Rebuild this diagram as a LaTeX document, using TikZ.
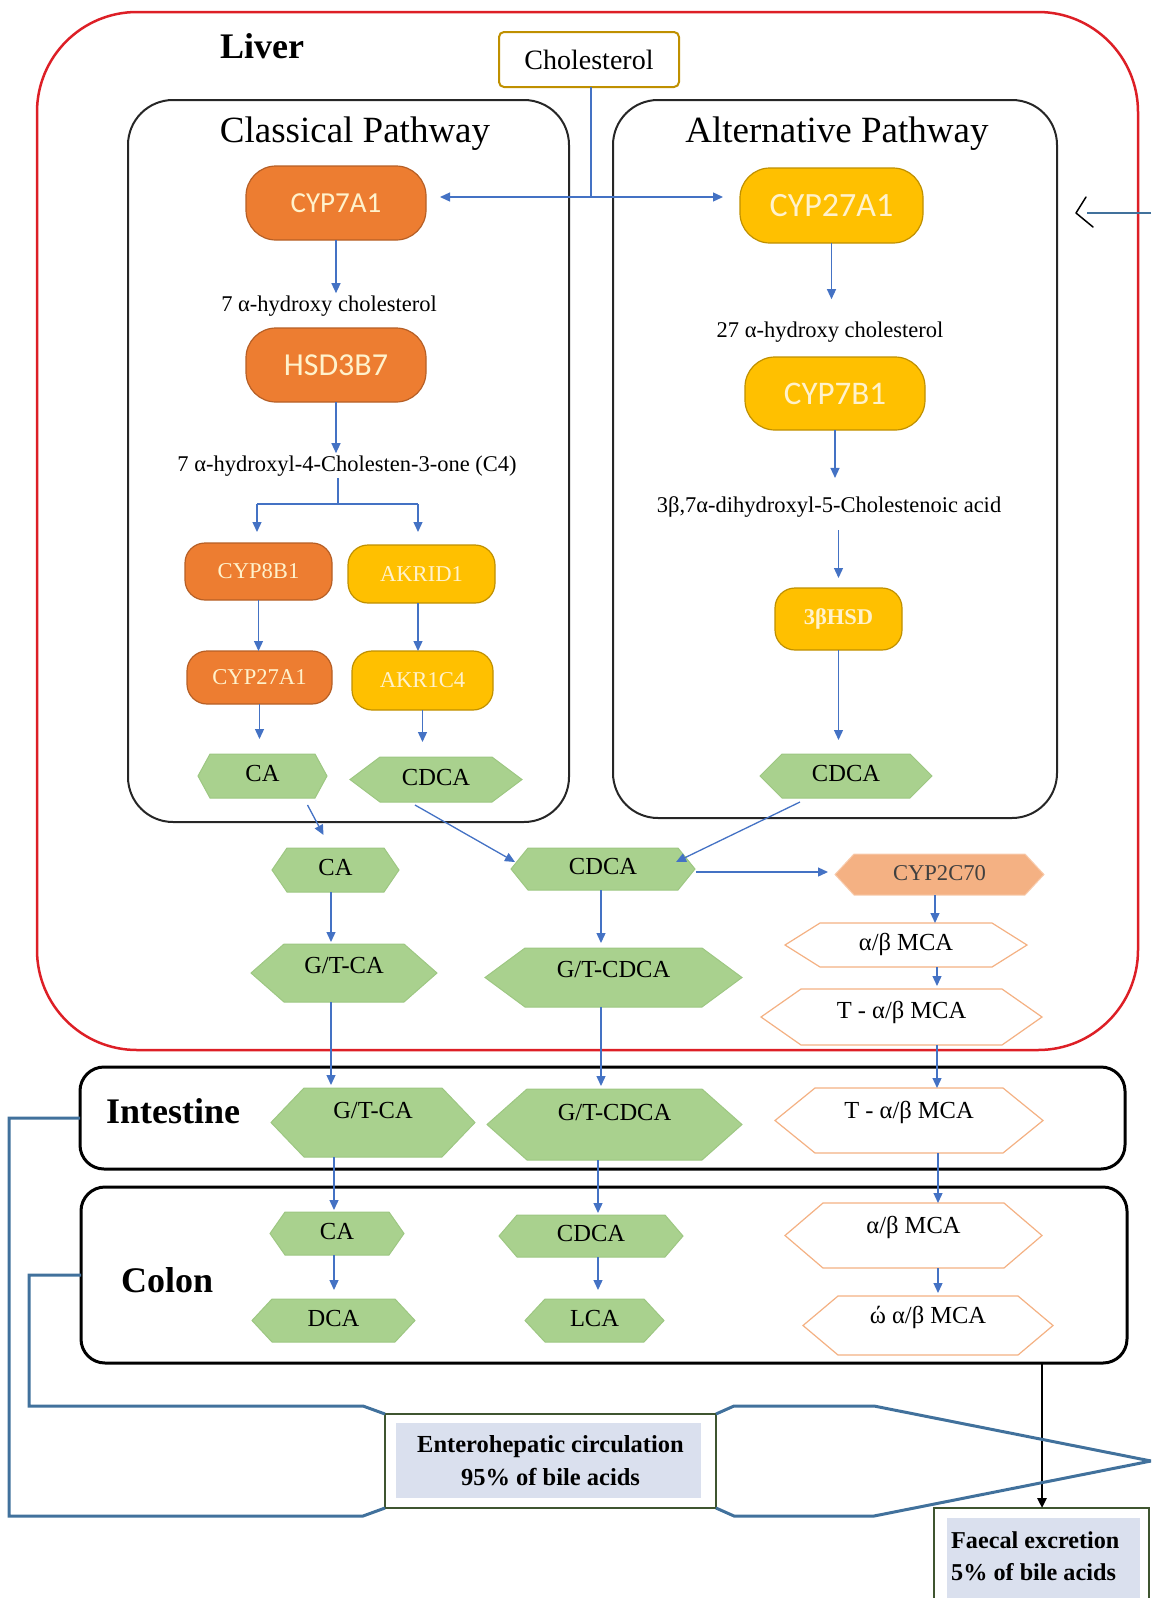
\documentclass[tikz,border=0pt]{standalone}
\usepackage{fontspec}
\setmainfont{Liberation Serif}
\newfontfamily\calib{Carlito}
\usetikzlibrary{arrows.meta,backgrounds,calc}
\definecolor{orgF}{HTML}{ED7D31}
\definecolor{orgD}{HTML}{B65F26}
\definecolor{gldF}{HTML}{FFC000}
\definecolor{gldD}{HTML}{BF9000}
\definecolor{grnF}{HTML}{A9D18E}
\definecolor{grnD}{HTML}{9DC782}
\definecolor{salF}{HTML}{F4B183}
\definecolor{salD}{HTML}{F8CBAD}
\definecolor{mcaD}{HTML}{F4B183}
\definecolor{arrB}{HTML}{4472C4}
\definecolor{funB}{HTML}{41719C}
\definecolor{livR}{HTML}{DD1F26}
\definecolor{entG}{HTML}{3F5530}
\definecolor{entF}{HTML}{DAE0EE}
\definecolor{cream}{HTML}{FFF2CC}
\definecolor{cholD}{HTML}{BF9000}
\newcommand\fsz[2]{\fontsize{#1pt}{#2pt}\selectfont}
\newcommand\hexa[3]{\begin{scope}[on background layer]\path[#3] (#1.west) -- ([xshift=#2pt]#1.north west) -- ([xshift=-#2pt]#1.north east) -- (#1.east) -- ([xshift=-#2pt]#1.south east) -- ([xshift=#2pt]#1.south west) -- cycle;\end{scope}}
\tikzset{
  wh/.style 2 args={minimum width=#1pt, minimum height=#2pt},
  enzbig/.style={rounded corners=30pt, line width=1.2pt, inner sep=0pt, outer sep=0pt, text=cream},
  orng/.style={fill=orgF, draw=orgD},
  gold/.style={fill=gldF, draw=gldD},
  enzsm/.style={rounded corners=20pt, line width=1.2pt, inner sep=0pt, outer sep=0pt, text=cream, font=\fsz{22.6}{27}},
  hexn/.style={inner sep=0pt, outer sep=0pt, text height=16pt, text depth=5pt, font=\fsz{24.5}{29}},
  greenhex/.style={fill=grnF, draw=grnD, line width=1pt},
  mcahex/.style={fill=white, draw=mcaD, line width=1.2pt},
  salhex/.style={fill=salF, draw=salD, line width=1pt},
  arr/.style={draw=arrB, line width=1.3pt, -{Triangle[length=10pt,width=9pt]}},
  ln/.style={draw=arrB, line width=1.3pt},
  funnel/.style={draw=funB, line width=3pt, line join=miter},
  lbl/.style={inner sep=2pt, font=\fsz{22.5}{27}},
  titl/.style={inner sep=0pt, font=\fsz{37}{44}},
  organ/.style={inner sep=0pt, font=\bfseries\fsz{36}{43}},
  pathbox/.style={draw=black!85, line width=2pt, rounded corners=45pt, inner sep=0pt, outer sep=0pt},
  gutbox/.style={draw=black, line width=3pt, rounded corners=24pt, inner sep=0pt, outer sep=0pt}
}
\begin{document}
\begin{tikzpicture}[x=1pt,y=-1pt]
\useasboundingbox (0,0) rectangle (1151,1598);
\clip (0,0) rectangle (1151,1598);

% containers
\node[draw=livR, line width=2.5pt, rounded corners=100pt, wh={1101}{1038}, inner sep=0pt, outer sep=0pt] (liver) at (587.5,531) {};
\node[pathbox, wh={441}{722}] (clbox) at (348.5,461) {};
\node[pathbox, wh={444}{718}] (altbox) at (835,459) {};
\node[gutbox, wh={1045}{102}] (intbox) at (602.5,1118) {};
\node[gutbox, wh={1046}{176}] (colonbox) at (604,1275) {};

% labels
\node[organ, anchor=base west] (livert) at (220,58) {Liver};
\node[organ, anchor=base west] (intt) at (106,1123) {Intestine};
\node[organ, anchor=base west] (colt) at (121,1292) {Colon};
\node[titl, anchor=base] (clt) at (355,142) {Classical Pathway};
\node[titl, anchor=base] (altt) at (837,142) {Alternative Pathway};
\node[draw=cholD, line width=2pt, rounded corners=5pt, wh={180}{55}, inner sep=0pt, outer sep=0pt, font=\fsz{28}{34}] (chol) at (589,59.5) {Cholesterol};

% enzymes
\node[enzbig, orng, wh={180}{74}, font=\calib\fsz{29}{35}] (cyp7a1) at (336,203) {CYP7A1};
\node[enzbig, gold, wh={183}{75}, font=\calib\fsz{34}{40}] (cyp27alt) at (831.5,205.5) {CYP27A1};
\node[enzbig, orng, wh={180}{74}, font=\calib\fsz{32}{38}] (hsd3b7) at (336,365) {HSD3B7};
\node[enzbig, gold, wh={180}{73}, font=\calib\fsz{33}{40}] (cyp7b1) at (835,393.5) {CYP7B1};
\node[enzsm, orng, wh={147}{57}] (cyp8b1) at (258.5,571.5) {CYP8B1};
\node[enzsm, gold, wh={147}{58}] (akrid1) at (421.5,574) {AKRID1};
\node[enzsm, orng, wh={145}{53}] (cyp27cl) at (259.5,677.5) {CYP27A1};
\node[enzsm, gold, wh={141}{59}] (akr1c4) at (422.5,680.5) {AKR1C4};
\node[enzsm, gold, wh={127}{62}, font=\bfseries\fsz{22.5}{27}] (hsd3b) at (838.5,619) {3βHSD};

% intermediate texts
\node[lbl, anchor=base] (t7a) at (329,311) {7 α-hydroxy cholesterol};
\node[lbl, anchor=base] (tc4) at (347,471) {7 α-hydroxyl-4-Cholesten-3-one (C4)};
\node[lbl, anchor=base] (t27a) at (830,337) {27 α-hydroxy cholesterol};
\node[lbl, anchor=base] (tdh) at (829,512) {3β,7α-dihydroxyl-5-Cholestenoic acid};

% hexagons
\node[hexn, wh={129}{44}] (cacl) at (262.5,776) {CA}; \hexa{cacl}{12}{greenhex}
\node[hexn, wh={172}{45}] (cdcacl) at (436,779.5) {CDCA}; \hexa{cdcacl}{30}{greenhex}
\node[hexn, wh={172}{44}] (cdcaalt) at (846,776) {CDCA}; \hexa{cdcaalt}{22}{greenhex}
\node[hexn, wh={127}{44}] (cali) at (335.5,870) {CA}; \hexa{cali}{15}{greenhex}
\node[hexn, wh={184}{42}] (cdcali) at (603,869) {CDCA}; \hexa{cdcali}{17}{greenhex}
\node[hexn, wh={209}{41}, text=black!75, font=\fsz{22.6}{27}] (cyp2c70) at (939.5,874.5) {CYP2C70}; \hexa{cyp2c70}{19}{salhex}
\node[hexn, wh={242}{44}] (abli) at (906,945) {α/β MCA}; \hexa{abli}{35}{mcahex}
\node[hexn, wh={281}{56}] (tabli) at (901.5,1017) {\raisebox{4pt}{T - α/β MCA}}; \hexa{tabli}{40}{mcahex}
\node[hexn, wh={186}{58}] (gtcali) at (344,973) {\raisebox{5pt}{G/T-CA}}; \hexa{gtcali}{33}{greenhex}
\node[hexn, wh={257}{59}] (gtcdcali) at (613.5,977.5) {\raisebox{6pt}{G/T-CDCA}}; \hexa{gtcdcali}{40}{greenhex}
\node[hexn, wh={204}{69}] (gtcaint) at (373,1122.5) {\raisebox{10pt}{G/T-CA}}; \hexa{gtcaint}{33}{greenhex}
\node[hexn, wh={255}{71}] (gtcdcaint) at (614.5,1124.5) {\raisebox{10pt}{G/T-CDCA}}; \hexa{gtcdcaint}{40}{greenhex}
\node[hexn, wh={268}{65}] (tabint) at (909,1120.5) {\raisebox{8pt}{T - α/β MCA}}; \hexa{tabint}{40}{mcahex}
\node[hexn, wh={134}{43}] (caco) at (337,1233.5) {CA}; \hexa{caco}{15}{greenhex}
\node[hexn, wh={184}{42}] (cdcaco) at (591,1236) {CDCA}; \hexa{cdcaco}{18}{greenhex}
\node[hexn, wh={257}{65}] (abco) at (913.5,1235.5) {\raisebox{8pt}{α/β MCA}}; \hexa{abco}{38}{mcahex}
\node[hexn, wh={163}{43}] (dca) at (333.5,1320.5) {DCA}; \hexa{dca}{20}{greenhex}
\node[hexn, wh={139}{43}] (lca) at (594.5,1320.5) {LCA}; \hexa{lca}{20}{greenhex}
\node[hexn, wh={250}{59}] (oab) at (928,1325.5) {\raisebox{8pt}{ώ α/β MCA}}; \hexa{oab}{35}{mcahex}

% bottom boxes
\node[draw=entG, line width=2pt, wh={331}{94}, inner sep=0pt, outer sep=0pt, align=center, font=\bfseries\fsz{24.5}{33},
  path picture={\fill[entF] ([shift={(11pt,-9pt)}]path picture bounding box.north west) rectangle ([shift={(-15pt,10pt)}]path picture bounding box.south east);}] (entero) at (550.5,1461) {Enterohepatic circulation\\95\% of bile acids};
\node[draw=entG, line width=2pt, anchor=north west, wh={215}{140}, inner sep=0pt, outer sep=0pt,
  path picture={\fill[entF] ([shift={(13pt,-10pt)}]path picture bounding box.north west) rectangle ([shift={(-9pt,0pt)}]path picture bounding box.south east);}] (faecal) at (934,1508) {};
\node[anchor=west, align=left, inner sep=0pt, font=\bfseries\fsz{24.2}{32}] (faect) at (951,1556) {Faecal excretion\\5\% of bile acids};

% cholesterol connectors
\coordinate (cj) at (591,197);
\draw[ln] (chol.south -| cj) -- (cj);
\draw[arr, shorten >=14pt] (cj) -- (cyp7a1.east |- cj);
\draw[arr, shorten >=17pt] (cj) -- (cyp27alt.west |- cj);

% classical pathway
\draw[arr] (cyp7a1.south) -- (cyp7a1.south |- t7a.north);
\coordinate (c4j) at (338,504);
\coordinate (bl) at (257,504);
\coordinate (br) at (418,504);
\draw[arr] (hsd3b7.south) -- (hsd3b7.south |- tc4.north);
\draw[ln] (tc4.south -| c4j) -- (c4j);
\draw[ln] (bl) -- (br);
\draw[arr, shorten >=11pt] (bl) -- (bl |- cyp8b1.north);
\draw[arr, shorten >=13pt] (br) -- (br |- akrid1.north);
\draw[arr] (cyp8b1.south) -- (cyp8b1.south |- cyp27cl.north);
\draw[arr] (akrid1.south -| br) -- (akr1c4.north -| br);
\draw[arr, shorten >=15pt] (cyp27cl.south) -- (cyp27cl.south |- cacl.north);
\draw[arr, shorten >=15pt] (akr1c4.south) -- (akr1c4.south |- cdcacl.north);

% alternative pathway
\draw[arr, shorten >=20pt] (cyp27alt.south) -- (cyp27alt.south |- t27a.north);
\draw[arr, shorten >=16pt] (cyp7b1.south) -- (cyp7b1.south |- tdh.north);
\draw[arr, shorten <=11pt, shorten >=10pt] (tdh.south -| hsd3b) -- (hsd3b.north);
\draw[arr, shorten >=14pt] (hsd3b.south) -- (hsd3b.south |- cdcaalt.north);

% to liver pool
\draw[arr] ($(cacl.south)+(45,7)$) -- ($(cali.north)+(-12,-13)$);
\draw[arr] ($(cdcacl.south)+(-21,3)$) -- ($(cdcali.west)+(4,-7)$);
\draw[arr] ($(cdcaalt.south)+(-46,4)$) -- ($(cdcali.east)+(-19,-7)$);
\draw[arr, shorten >=7pt, shorten <=1pt] ($(cdcali.east)+(0,3)$) -- ($(cdcali.east -| cyp2c70.west)+(0,3)$);

% vertical flows
\coordinate (xa) at (331,0);
\coordinate (xb) at (334,0);
\coordinate (xc) at (601,0);
\coordinate (xd) at (598,0);
\coordinate (xe) at (935,0);
\coordinate (xf) at (937,0);
\coordinate (xg) at (938,0);
\draw[arr, shorten >=2pt] (cali.south -| xa) -- (gtcali.north -| xa);
\draw[arr, shorten >=3pt] (gtcali.south -| xa) -- (gtcaint.north -| xa);
\draw[arr, shorten >=2pt] (gtcaint.south -| xb) -- (caco.north -| xb);
\draw[arr, shorten >=9pt] (caco.south -| xb) -- (dca.north -| xb);
\draw[arr, shorten >=5pt] (cdcali.south -| xc) -- (gtcdcali.north -| xc);
\draw[arr, shorten >=3pt] (gtcdcali.south -| xc) -- (gtcdcaint.north -| xc);
\draw[arr, shorten >=2pt] (gtcdcaint.south -| xd) -- (cdcaco.north -| xd);
\draw[arr, shorten >=9pt] (cdcaco.south -| xd) -- (lca.north -| xd);
\draw[arr] (cyp2c70.south -| xe) -- (abli.north -| xe);
\draw[arr, shorten >=3pt] (abli.south -| xf) -- (tabli.north -| xf);
\draw[arr] (tabli.south -| xf) -- (tabint.north -| xf);
\draw[arr] (tabint.south -| xg) -- (abco.north -| xg);
\draw[arr, shorten >=3pt] (abco.south -| xg) -- (oab.north -| xg);

% faecal excretion
\coordinate (fx) at (1042,0);
\draw[line width=2.5pt, -{Triangle[length=10pt,width=9pt]}] (colonbox.south -| fx) -- (faecal.north -| fx);

% enterohepatic circulation
\coordinate (tip) at (1151,1461);
\draw[funnel] (intbox.west) -| (9,1516) -- (363,1516) -- (entero.south west);
\draw[funnel] (entero.south east) -- (734,1516) -- (874,1516) -- (tip);
\draw[funnel] (colonbox.west) -| (29,1406) -- (363,1406) -- (entero.north west);
\draw[funnel] (entero.north east) -- (734,1406) -- (874,1406) -- (tip);

% return to liver
\coordinate (rtin) at (1151,213);
\coordinate (rtend) at (1087,213);
\draw[draw=funB, line width=2pt] (rtin) -- (rtend);
\draw[line width=1.5pt, line join=round, line cap=round] (1086,197) -- (1076,213) -- (1093,227);
\end{tikzpicture}
\end{document}
